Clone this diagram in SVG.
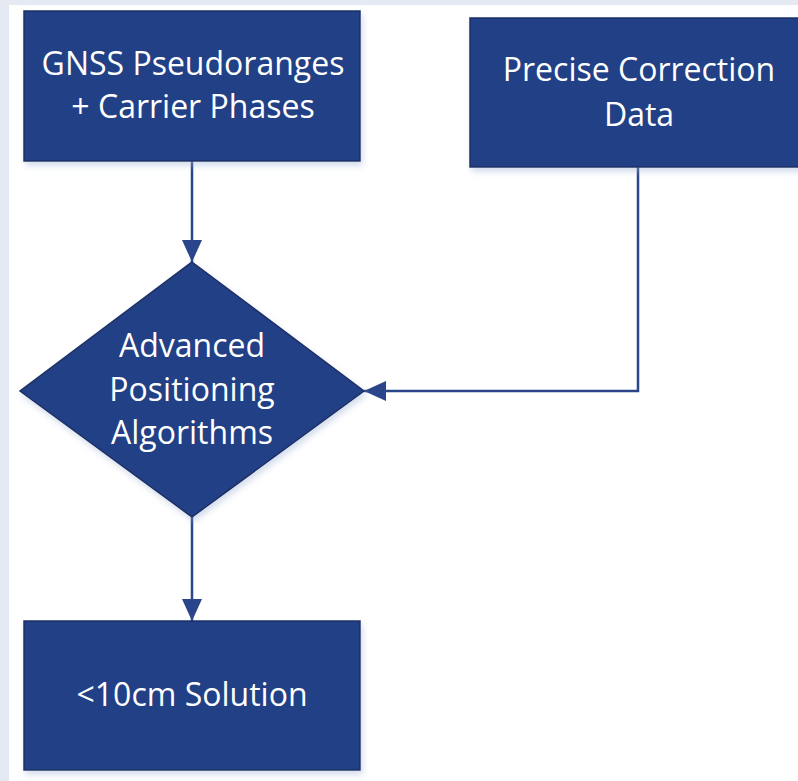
<svg xmlns="http://www.w3.org/2000/svg" width="798" height="781" viewBox="0 0 798 781">
  <defs>
    <filter id="soft" x="-10%" y="-10%" width="125%" height="130%">
      <feGaussianBlur in="SourceAlpha" stdDeviation="3"/>
      <feOffset dx="2" dy="4" result="b"/>
      <feFlood flood-color="#9fb3d6" flood-opacity="0.45"/>
      <feComposite in2="b" operator="in"/>
      <feMerge><feMergeNode/><feMergeNode in="SourceGraphic"/></feMerge>
    </filter>
    <marker id="arrow" viewBox="0 0 22 20" refX="22" refY="10" markerWidth="22" markerHeight="20" markerUnits="userSpaceOnUse" orient="auto">
      <path d="M0,0 L22,10 L0,20 Z" fill="#2a4589"/>
    </marker>
    <style>
      .shape { fill: #243f85; stroke: #1b2f66; stroke-width: 1.5; filter: url(#soft); }
      .label { fill: #ffffff; font-family: "Open Sans", "Liberation Sans", Arial, sans-serif; font-size: 32px; text-anchor: middle; }
      .link { fill: none; stroke: #2a4589; stroke-width: 2.5; marker-end: url(#arrow); }
    </style>
  </defs>

  <!-- page background with light margin -->
  <rect x="0" y="0" width="798" height="781" fill="#e5e9f1"/>
  <rect x="9" y="5" width="789" height="776" fill="#ffffff"/>

  <g id="connectors">
    <path class="link" d="M192,161 L192,262"/>
    <path class="link" d="M638,167 L638,391 L364,391"/>
    <path class="link" d="M192,517 L192,621"/>
  </g>

  <g id="gnss-input">
    <rect class="shape" x="24" y="11" width="336" height="150"/>
    <text class="label" x="193" y="75">GNSS Pseudoranges</text>
    <text class="label" x="193" y="118">+ Carrier Phases</text>
  </g>

  <g id="correction-data">
    <rect class="shape" x="470" y="18" width="338" height="149"/>
    <text class="label" x="639" y="81">Precise Correction</text>
    <text class="label" x="639" y="126">Data</text>
  </g>

  <g id="positioning">
    <polygon class="shape" points="192,262 364,391 192,517 20,391"/>
    <text class="label" x="192" y="357">Advanced</text>
    <text class="label" x="192" y="401">Positioning</text>
    <text class="label" x="192" y="444">Algorithms</text>
  </g>

  <g id="solution">
    <rect class="shape" x="24" y="621" width="336" height="149"/>
    <text class="label" x="192" y="706">&lt;10cm Solution</text>
  </g>
</svg>
